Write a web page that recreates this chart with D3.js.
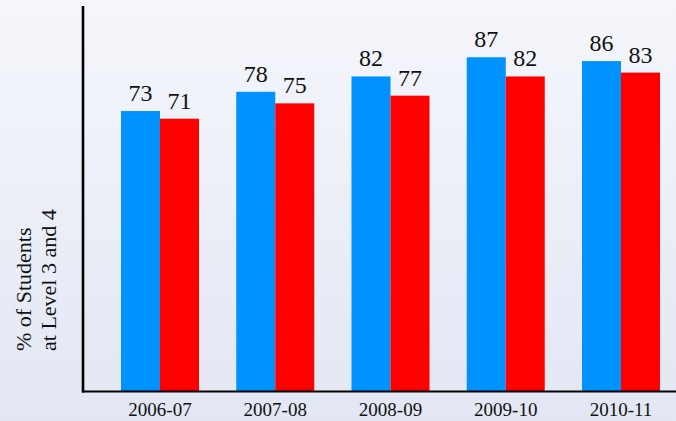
<!DOCTYPE html>
<html>
<head>
<meta charset="utf-8">
<script src="https://cdn.jsdelivr.net/npm/d3@7"></script>
<style>
  html, body { margin: 0; padding: 0; overflow: hidden; }
  svg { display: block; }
  svg text { font-family: "Liberation Serif", "DejaVu Serif", serif; }
</style>
</head>
<body>
<div id="chart"></div>
<script>
const years = ["2006-07", "2007-08", "2008-09", "2009-10", "2010-11"];
const seriesA = [73, 78, 82, 87, 86];
const seriesB = [71, 75, 77, 82, 83];
const seriesNames = ["a", "b"];
const seriesColors = ["#0092ff", "#ff0000"];
const yLabelLines = ["% of Students", "at Level 3 and 4"];

const drawChart = () => {
  const width = 676;
  const height = 421;
  const font = "Liberation Serif, DejaVu Serif, serif";

  const svg = d3.select("#chart")
    .append("svg")
    .attr("width", width)
    .attr("height", height);

  const grad = svg.append("defs")
    .append("linearGradient")
    .attr("id", "bg")
    .attr("x1", 0).attr("y1", 0).attr("x2", 0).attr("y2", 1);
  grad.append("stop").attr("offset", "0%").attr("stop-color", "#f4f6fb");
  grad.append("stop").attr("offset", "100%").attr("stop-color", "#e2e7f3");

  svg.append("rect")
    .attr("width", width)
    .attr("height", height)
    .attr("fill", "url(#bg)");

  const x = d3.scaleBand()
    .domain(years)
    .range([102.4, 678.6])
    .paddingInner(0.323)
    .paddingOuter(0.1615);

  const xs = d3.scaleBand()
    .domain(seriesNames)
    .range([0, x.bandwidth()]);

  const y = d3.scaleLinear()
    .domain([0, 100])
    .range([391.5, 7.3]);

  const rows = years.map((yr, i) => ({ year: yr, values: [seriesA[i], seriesB[i]] }));

  const groups = svg.selectAll("g.group")
    .data(rows)
    .enter()
    .append("g")
    .attr("class", "group")
    .attr("transform", d => `translate(${x(d.year)},0)`);

  const cells = groups.selectAll("g.cell")
    .data(d => d.values.map((v, j) => ({ key: seriesNames[j], value: v, color: seriesColors[j] })))
    .enter()
    .append("g")
    .attr("class", "cell");

  cells.append("rect")
    .attr("x", d => xs(d.key))
    .attr("y", d => y(d.value))
    .attr("width", xs.bandwidth())
    .attr("height", d => y(0) - y(d.value))
    .attr("fill", d => d.color);

  cells.append("text")
    .attr("x", d => xs(d.key) + xs.bandwidth() / 2)
    .attr("y", d => y(d.value) - 10)
    .attr("text-anchor", "middle")
    .style("font-family", font)
    .style("font-size", "24px")
    .attr("fill", "#111")
    .text(d => d.value);

  // x axis
  const xAxis = svg.append("g")
    .attr("transform", `translate(0,${y(0)})`)
    .call(d3.axisBottom(x).tickSize(0));
  xAxis.select(".domain").remove();
  xAxis.selectAll("text")
    .attr("y", 24.5)
    .attr("dy", 0)
    .style("font-family", font)
    .style("font-size", "19px")
    .attr("fill", "#111");

  svg.append("line")
    .attr("x1", 82).attr("x2", width)
    .attr("y1", y(0)).attr("y2", y(0))
    .attr("stroke", "#000")
    .attr("stroke-width", 2);

  svg.append("line")
    .attr("x1", 83).attr("x2", 83)
    .attr("y1", y(0) + 1).attr("y2", 6)
    .attr("stroke", "#000")
    .attr("stroke-width", 2.6);

  // y label
  const yl = svg.append("text")
    .attr("transform", "translate(0,351) rotate(-90)")
    .style("font-family", font)
    .style("font-size", "22px")
    .attr("fill", "#111")
    .attr("text-anchor", "start");
  yl.selectAll("tspan")
    .data(yLabelLines)
    .enter()
    .append("tspan")
    .attr("x", 0)
    .attr("y", (d, i) => 31 + i * 25)
    .text(d => d);
};

window.onload = drawChart;
</script>
</body>
</html>
